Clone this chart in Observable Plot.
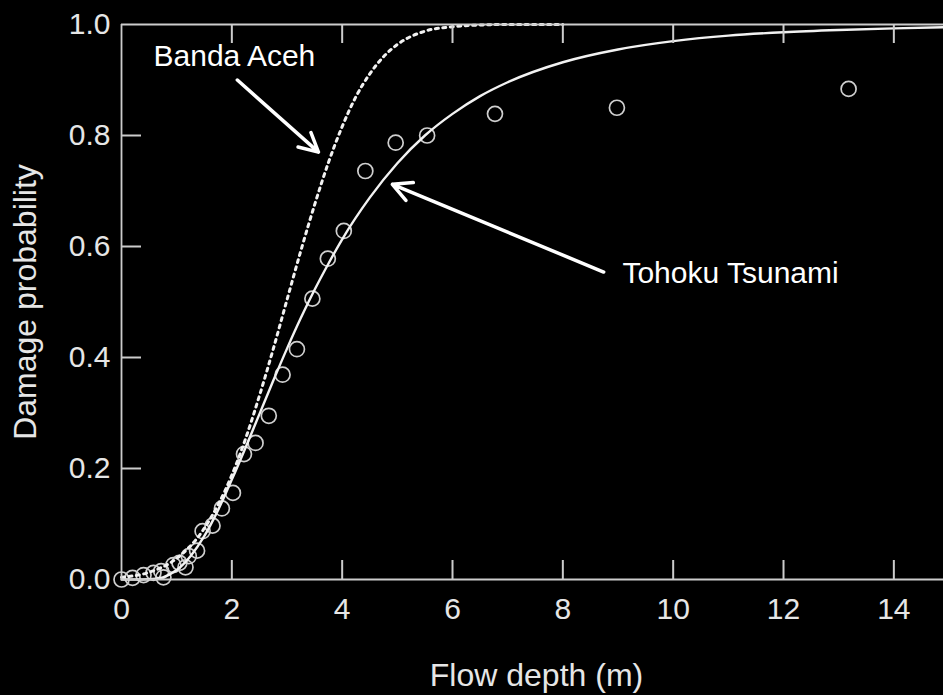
<!DOCTYPE html>
<html>
<head>
<meta charset="utf-8">
<script src="https://cdn.jsdelivr.net/npm/d3@7"></script>
<script src="https://cdn.jsdelivr.net/npm/@observablehq/plot@0.6"></script>
<style>
  html, body { margin: 0; padding: 0; background: #000; }
  #chart svg { display: block; }
</style>
</head>
<body>
<div id="chart"></div>
<script>
// Tick values
const xTicks = [0, 2, 4, 6, 8, 10, 12, 14];
const yTicks = [0, 0.2, 0.4, 0.6, 0.8, 1.0];

// Observed damage ratios (Tohoku)
const obsDepth = [0.0, 0.2, 0.4, 0.58, 0.72, 0.76, 0.94, 1.05, 1.16, 1.22, 1.37, 1.47, 1.65, 1.82, 2.02, 2.22, 2.43, 2.67, 2.92, 3.18, 3.46, 3.74, 4.03, 4.42, 4.97, 5.54, 6.77, 8.98, 13.18];
const obsProb  = [0.0, 0.003, 0.008, 0.012, 0.015, 0.004, 0.026, 0.030, 0.022, 0.042, 0.052, 0.087, 0.097, 0.128, 0.156, 0.226, 0.246, 0.295, 0.369, 0.415, 0.506, 0.578, 0.628, 0.736, 0.787, 0.800, 0.839, 0.850, 0.884];

// Tohoku Tsunami fragility curve (solid)
const tohokuDepth = [0, 0.25, 0.5, 0.75, 1, 1.25, 1.5, 1.75, 2, 2.25, 2.5, 2.75, 3, 3.25, 3.5, 3.75, 4, 4.5, 5, 5.5, 6, 6.5, 7, 8, 9, 10, 11, 12, 13, 14, 14.9];
const tohokuProb  = [0, 0.000, 0.0004, 0.004, 0.017, 0.042, 0.078, 0.125, 0.180, 0.238, 0.298, 0.358, 0.416, 0.471, 0.522, 0.569, 0.613, 0.688, 0.750, 0.800, 0.839, 0.871, 0.896, 0.932, 0.955, 0.970, 0.980, 0.986, 0.990, 0.993, 0.995];

// Banda Aceh fragility curve (dotted)
const bandaDepth = [0, 0.5, 1, 1.5, 2, 2.25, 2.5, 2.75, 3, 3.25, 3.5, 3.75, 4, 4.25, 4.5, 4.75, 5, 5.5, 6, 6.5, 7, 8];
const bandaProb  = [0.004, 0.013, 0.038, 0.092, 0.188, 0.254, 0.331, 0.415, 0.504, 0.592, 0.675, 0.751, 0.816, 0.870, 0.911, 0.942, 0.964, 0.988, 0.996, 0.999, 1.0, 1.0];

// Annotations
const labels = ["Banda Aceh", "Tohoku Tsunami"];
const labelX = [0.58, 9.08];
const labelY = [0.943, 0.551];
const arrowX1 = [2.10, 8.74];
const arrowY1 = [0.900, 0.554];
const arrowX2 = [3.57, 4.91];
const arrowY2 = [0.770, 0.712];

const obs = obsDepth.map((x, i) => ({x, y: obsProb[i]}));
const tohoku = tohokuDepth.map((x, i) => ({x, y: tohokuProb[i]}));
const banda = bandaDepth.map((x, i) => ({x, y: bandaProb[i]}));
const notes = labels.map((t, i) => ({t, x: labelX[i], y: labelY[i]}));
const arrows = arrowX1.map((x1, i) => ({x1, y1: arrowY1[i], x2: arrowX2[i], y2: arrowY2[i]}));

const axisColor = "#cccccc";
const textColor = "#e6e6e6";
const FONT = "'Liberation Sans', Arial, Helvetica, sans-serif";

const chart = Plot.plot({
  width: 943,
  height: 695,
  marginLeft: 121,
  marginRight: 0,
  marginTop: 24,
  marginBottom: 116,
  x: {domain: [0, 14.9]},
  y: {domain: [0, 1]},
  style: {background: "#000", color: textColor, fontFamily: FONT, fontSize: "30px"},
  marks: [
    // tick labels
    Plot.axisX(xTicks, {tickSize: 0, tickPadding: 18, label: null, tickFormat: d3.format("d"), fill: textColor}),
    Plot.axisY(yTicks, {tickSize: 0, tickPadding: 11, label: null, tickFormat: d3.format(".1f"), fill: textColor}),
    // axis titles
    Plot.text(["Flow depth (m)"], {frameAnchor: "bottom", dy: 96, dx: 4, lineAnchor: "middle", textAnchor: "middle", fontSize: 32, fill: textColor}),
    Plot.text(["Damage probability"], {frameAnchor: "left", dx: -96, rotate: -90, textAnchor: "middle", lineAnchor: "middle", fontSize: 32, fill: textColor}),
    // observations
    Plot.dot(obs, {x: "x", y: "y", r: 7.5, stroke: "#cfcfcf", strokeWidth: 1.7, fill: "none"}),
    // fragility curves
    Plot.line(banda, {x: "x", y: "y", stroke: "#f2f2f2", strokeWidth: 3, strokeDasharray: "3,4.5", curve: "monotone-x"}),
    Plot.line(tohoku, {x: "x", y: "y", stroke: "#f2f2f2", strokeWidth: 2.4, curve: "monotone-x"}),
    // annotations
    Plot.arrow(arrows, {x1: "x1", y1: "y1", x2: "x2", y2: "y2", stroke: "#ffffff", strokeWidth: 3.5, headLength: 9, headAngle: 55}),
    Plot.text(notes, {x: "x", y: "y", text: "t", textAnchor: "start", fontSize: 30, fill: "#ffffff"}),
    // inward ticks (bottom, top, left)
    Plot.ruleX(xTicks.slice(1), {insetTop: 536, stroke: axisColor, strokeWidth: 2}),
    Plot.ruleX(xTicks.slice(1), {insetBottom: 536, stroke: axisColor, strokeWidth: 2}),
    Plot.ruleY(yTicks.slice(1, -1), {insetRight: 802, stroke: axisColor, strokeWidth: 2}),
    // frame lines
    Plot.ruleX([0], {stroke: axisColor, strokeWidth: 1.8}),
    Plot.ruleY([0, 1], {stroke: axisColor, strokeWidth: 1.8})
  ]
});

document.getElementById("chart").appendChild(chart);
</script>
</body>
</html>
